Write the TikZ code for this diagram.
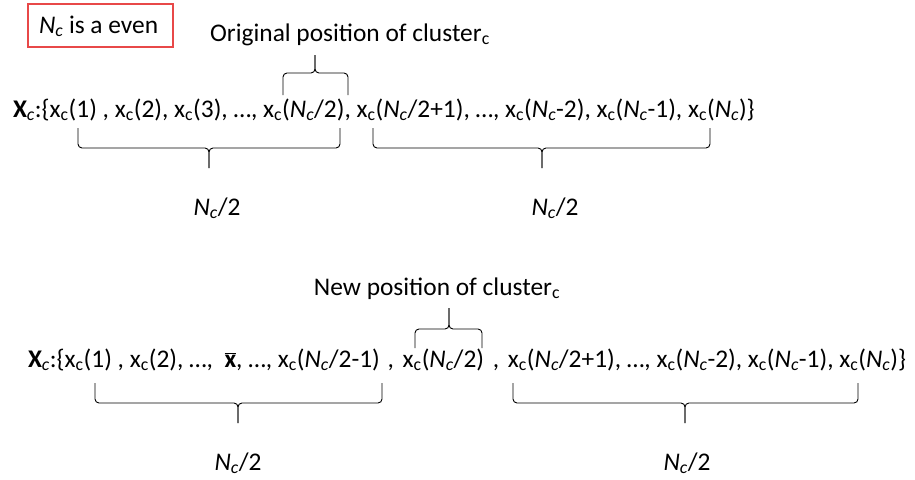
\documentclass[tikz,border=0pt]{standalone}
\usepackage{fontspec}
\setmainfont{Carlito}
\newcommand\sbc{\textsubscript{c}}
\newcommand\itc{\textsubscript{\textit{c}}}
\newcommand\Nc{\textit{N}\itc}
\newcommand\hbrace[6]{%
  \draw[bracestyle] (#1,#3) -- (#1,#4) -- (#5,#4) -- (#5,#6);
  \draw[bracestyle] (#2,#3) -- (#2,#4) -- (#5,#4) -- (#5,#6);}
\tikzset{
  bracestyle/.style={draw=black, line width=0.9pt, rounded corners=4pt},
  txt/.style={inner sep=0pt, outer sep=0pt, font=\fontsize{25.4}{30}\selectfont},
  redbox/.style={draw={rgb,255:red,232;green,72;blue,72}, line width=1.2pt}
}
\begin{document}
\begin{tikzpicture}[x=1pt,y=-1pt]
\useasboundingbox (0,0) rectangle (915,479);
% red box
\draw[redbox] (28,4) rectangle (173,47);
\node[txt, anchor=base west] (even) at (39,33) {\Nc{} is a even};
% line 1
\node[txt, anchor=base] (orig) at (350,41) {Original position of cluster\sbc};
\node[txt, anchor=base west] (line1) at (13,117) {\textbf{X}\itc:\{x\sbc(1) , x\sbc(2), x\sbc(3), …, x\sbc(\Nc/2), x\sbc(\Nc/2+1), …, x\sbc(\Nc-2), x\sbc(\Nc-1), x\sbc(\Nc)\}};
\hbrace{283}{348}{95}{73}{315}{55}
\hbrace{78}{340}{128}{148}{209}{168}
\hbrace{373}{710}{128}{148}{542}{168}
\node[txt, anchor=base] (h1) at (217,215) {\Nc/2};
\node[txt, anchor=base] (h2) at (555,215) {\Nc/2};
% line 2
\node[txt, anchor=base] (new) at (437,295) {New position of cluster\sbc};
\node[txt, anchor=base west] (line2) at (28,367) {\textbf{X}\itc:\{x\sbc(1) , x\sbc(2), …,\ \ $\overline{\mbox{\textbf{x}}}$, …, x\sbc(\Nc/2-1)\hspace{2pt} ,\hspace{3pt} x\sbc(\Nc/2)\hspace{3pt} ,\hspace{3pt} x\sbc(\Nc/2+1), …, x\sbc(\Nc-2), x\sbc(\Nc-1), x\sbc(\Nc)\}};
\hbrace{415}{482}{348}{329}{449}{308}
\hbrace{95}{382}{383}{403}{238}{423}
\hbrace{513}{858}{383}{403}{685}{423}
\node[txt, anchor=base] (h3) at (238,470) {\Nc/2};
\node[txt, anchor=base] (h4) at (687,470) {\Nc/2};
\end{tikzpicture}
\end{document}
